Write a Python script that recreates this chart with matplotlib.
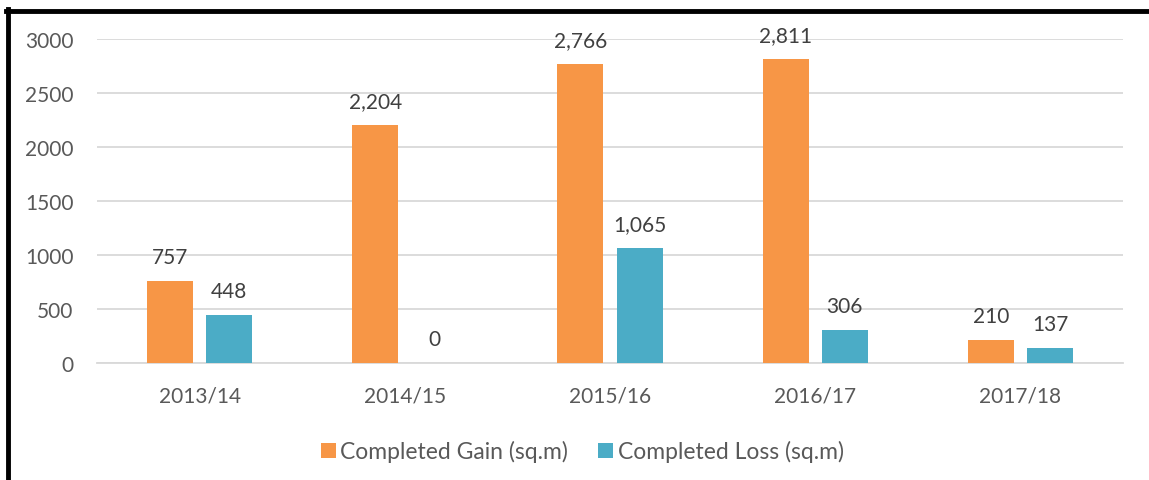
#! /usr/bin/env python3

import numpy as np
import matplotlib.pyplot as plt
from matplotlib.lines import Line2D

# Completed floorspace gain / loss per year (sq.m)
years = ["2013/14", "2014/15", "2015/16", "2016/17", "2017/18"]
gain = [757, 2204, 2766, 2811, 210]
loss = [448, 0, 1065, 306, 137]

plt.rcParams['font.family'] = ['Lato', 'DejaVu Sans']
grey = "#595959"

fig = plt.figure(figsize=(11.49, 4.81), dpi=100)
ax = fig.add_axes([0.0844, 0.2432, 0.893, 0.6736])

x = np.arange(len(years))
w = 0.224
off = 0.144
b1 = ax.bar(x - off, gain, w, color="#F79646", label="Completed Gain (sq.m)", zorder=3)
b2 = ax.bar(x + off, loss, w, color="#4BACC6", label="Completed Loss (sq.m)", zorder=3)

for bars, vals in ((b1, gain), (b2, loss)):
    for r, v in zip(bars, vals):
        ax.annotate(f"{v:,}", (r.get_x() + r.get_width() / 2, v),
                    xytext=(0, 10), textcoords="offset points",
                    ha="center", va="bottom", fontsize=15, color="#404040")

ax.set_xlim(-0.5, len(years) - 0.5)
ax.set_ylim(0, 3000)
ax.set_yticks(range(0, 3001, 500))
ax.set_xticks(x)
ax.set_xticklabels(years)
ax.tick_params(axis="both", length=0, labelsize=15, labelcolor=grey)
ax.tick_params(axis="y", pad=17)
ax.tick_params(axis="x", pad=16)
ax.yaxis.grid(True, color="#D9D9D9", linewidth=1.3, zorder=0)
for s in ("top", "right", "left"):
    ax.spines[s].set_visible(False)
ax.spines["bottom"].set_color("#D9D9D9")
ax.spines["bottom"].set_linewidth(1.3)

leg = ax.legend(loc="upper center", bbox_to_anchor=(0.473, -0.175), ncol=2,
                frameon=False, fontsize=16.5, handlelength=0.65, handleheight=0.65,
                handletextpad=0.2, columnspacing=1.3)
for t in leg.get_texts():
    t.set_color(grey)

# black frame, only left and top edges are visible in the crop
fig.add_artist(Line2D([8 / 1149, 8 / 1149], [0, 1 - 10 / 481], color="black",
                      linewidth=3.5, transform=fig.transFigure))
fig.add_artist(Line2D([6 / 1149, 1], [1 - 11.5 / 481, 1 - 11.5 / 481], color="black",
                      linewidth=3.5, transform=fig.transFigure))

fig.savefig("out.png", dpi=100)
